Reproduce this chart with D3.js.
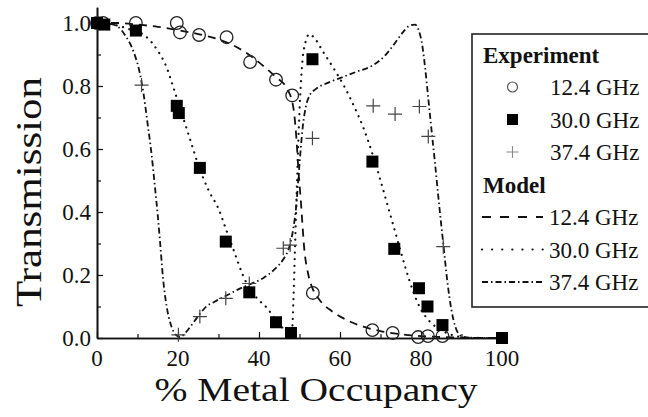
<!DOCTYPE html>
<html>
<head>
<meta charset="utf-8">
<script src="https://cdn.jsdelivr.net/npm/d3@7"></script>
</head>
<body style="margin:0">
<svg id="chart" width="648" height="417" font-family="Liberation Serif" style="display:block;background:#fff"></svg>
<script>
// ---------- Experimental data ----------
const exp124X = [0, 1.5, 9.6, 19.7, 20.5, 25.2, 32, 37.8, 44.2, 48.2, 53.3, 68, 73, 79.3, 81.7, 85.3];
const exp124Y = [1.0, 1.0, 1.0, 1.0, 0.97, 0.962, 0.955, 0.876, 0.82, 0.77, 0.143, 0.025, 0.016, 0.003, 0.006, 0.006];

const exp300X = [0, 1.8, 9.6, 19.7, 20.2, 25.4, 31.8, 37.6, 44.2, 47.9, 53.2, 68, 73.4, 79.5, 81.6, 85.3, 100];
const exp300Y = [1.0, 0.995, 0.976, 0.737, 0.714, 0.54, 0.306, 0.145, 0.05, 0.016, 0.885, 0.56, 0.283, 0.158, 0.1, 0.041, 0.0];

const exp374X = [0, 11, 20.1, 25.4, 31.8, 37.6, 46, 47.7, 53.2, 68.2, 73.6, 79.6, 81.8, 85.5];
const exp374Y = [1.0, 0.803, 0.01, 0.068, 0.126, 0.173, 0.285, 0.295, 0.634, 0.737, 0.711, 0.735, 0.64, 0.29];

// ---------- Model curves ----------
const mod124X = [0, 5, 10, 15, 20, 25, 30, 35, 40, 44, 47, 48.5, 49.2, 49.7, 50.3, 51.2, 52.2, 53.3, 55, 58, 62, 66, 70, 75, 80, 85, 90, 100];
const mod124Y = [1.0, 1.0, 0.995, 0.988, 0.977, 0.965, 0.948, 0.92, 0.875, 0.83, 0.79, 0.73, 0.64, 0.54, 0.44, 0.28, 0.2, 0.155, 0.12, 0.085, 0.055, 0.035, 0.022, 0.012, 0.006, 0.003, 0.001, 0.0];

const mod300X = [0, 4, 8, 12, 15, 17, 19, 21, 23, 25, 27.5, 30, 32, 34, 36, 38, 40, 42, 44, 46, 47.5, 48.2, 48.5, 48.9, 49.4, 50, 50.6, 51.5, 52.5, 53.5, 56, 58, 61, 63.5, 66, 68, 70, 72, 74, 76, 78, 80, 82, 84, 86, 88, 90, 95, 100];
const mod300Y = [1.0, 0.995, 0.98, 0.958, 0.912, 0.865, 0.79, 0.71, 0.63, 0.55, 0.47, 0.41, 0.34, 0.27, 0.2, 0.15, 0.12, 0.095, 0.06, 0.03, 0.012, 0.03, 0.12, 0.29, 0.5, 0.72, 0.86, 0.94, 0.965, 0.955, 0.905, 0.865, 0.8, 0.735, 0.66, 0.585, 0.5, 0.41, 0.32, 0.23, 0.15, 0.09, 0.055, 0.032, 0.018, 0.008, 0.003, 0.0, 0.0];

const mod374X = [0, 3, 5, 7, 9, 10.5, 11.5, 12.5, 13.5, 14.3, 15, 15.6, 16.3, 17.2, 18.3, 19.5, 20.5, 21.5, 23, 25, 27, 29, 32, 35, 38, 41, 44, 46, 47.5, 48.5, 49.2, 49.8, 50.3, 50.8, 51.5, 52.5, 54, 57, 61, 64, 68, 71, 73.5, 75.5, 77, 78.5, 79.5, 80.3, 81, 81.8, 82.6, 83.5, 84.5, 85.5, 86.5, 87.5, 88.5, 89.5, 91, 95, 100];
const mod374Y = [1.0, 0.998, 0.99, 0.96, 0.91, 0.845, 0.775, 0.68, 0.58, 0.48, 0.39, 0.3, 0.19, 0.1, 0.04, 0.01, 0.003, 0.012, 0.035, 0.07, 0.1, 0.115, 0.135, 0.155, 0.172, 0.19, 0.22, 0.25, 0.29, 0.35, 0.42, 0.52, 0.6, 0.67, 0.73, 0.77, 0.79, 0.81, 0.83, 0.845, 0.865, 0.895, 0.935, 0.97, 0.99, 0.995, 0.975, 0.93, 0.86, 0.76, 0.66, 0.55, 0.42, 0.3, 0.18, 0.09, 0.035, 0.01, 0.002, 0.0, 0.0];

// ---------- Ticks / labels ----------
const xMajorTicks = [0, 20, 40, 60, 80, 100];
const xMinorTicks = [10, 30, 50, 70, 90];
const yMajorTicks = [0, 0.2, 0.4, 0.6, 0.8, 1.0];
const yMinorTicks = [0.1, 0.3, 0.5, 0.7, 0.9];
const xTitle = "% Metal Occupancy";
const yTitle = "Transmission";
const legendExpTitle = "Experiment";
const legendModelTitle = "Model";
const seriesNames = ["12.4 GHz", "30.0 GHz", "37.4 GHz"];

// ---------- Drawing ----------
const FONT = "Liberation Serif";
const svg = d3.select("#chart");
const x = d3.scaleLinear().domain([0, 100]).range([97, 502]);
const y = d3.scaleLinear().domain([0, 1]).range([338, 23]);
const yAxisScale = y.copy().domain([0, 1.05]).range([338, y(1.05)]);

const zip = (xs, ys) => xs.map((v, i) => [v, ys[i]]);

function addText(parent, props, str) {
  const t = parent.append("text").text(str);
  Object.entries(props).forEach(([k, v]) => t.attr(k, v));
  t.attr("font-family", FONT).style("font-family", '"Liberation Serif"');
  return t;
}

// Axes (ticks drawn by d3 axes, labels added as plain texts using the same scales)
const gx = svg.append("g").attr("transform", `translate(0,${y(0)})`);
gx.call(d3.axisBottom(x).tickValues(xMinorTicks).tickSize(-4).tickSizeOuter(0).tickFormat(""));
const gx2 = svg.append("g").attr("transform", `translate(0,${y(0)})`);
gx2.call(d3.axisBottom(x).tickValues(xMajorTicks).tickSize(-6).tickSizeOuter(0).tickFormat(""));

const gy = svg.append("g").attr("transform", `translate(${x(0)},0)`);
gy.call(d3.axisLeft(yAxisScale).tickValues(yMinorTicks).tickSize(-4).tickSizeOuter(0).tickFormat(""));
const gy2 = svg.append("g").attr("transform", `translate(${x(0)},0)`);
gy2.call(d3.axisLeft(yAxisScale).tickValues(yMajorTicks).tickSize(-6).tickSizeOuter(0).tickFormat(""));

svg.selectAll("g").attr("font-family", null);
svg.selectAll(".tick text").remove();
svg.selectAll(".domain").attr("stroke", "#111").attr("stroke-width", 1.6);
svg.selectAll(".tick line").attr("stroke", "#111").attr("stroke-width", 1.2);

const fx = d3.format("d"), fy = d3.format(".1f");
xMajorTicks.forEach(v => addText(svg, { x: x(v), y: 366, "text-anchor": "middle", "font-size": 23, fill: "#111" }, fx(v)));
yMajorTicks.forEach(v => addText(svg, { x: 91, y: y(v) + 7.5, "text-anchor": "end", "font-size": 23, fill: "#111" }, fy(v)));

// Axis titles
addText(svg, { x: 316, y: 401, "text-anchor": "middle", "font-size": 34, fill: "#111",
  textLength: 323, lengthAdjust: "spacingAndGlyphs" }, xTitle);
addText(svg, { transform: "translate(41,192) rotate(-90)", "text-anchor": "middle", "font-size": 35, fill: "#111",
  textLength: 230, lengthAdjust: "spacingAndGlyphs" }, yTitle);

// Model lines
const line = d3.line().x(d => x(d[0])).y(d => y(d[1])).curve(d3.curveMonotoneX);
const modelStyles = [
  { data: zip(mod124X, mod124Y), dash: "8,6", width: 1.8, cap: "butt" },
  { data: zip(mod300X, mod300Y), dash: "0.1,6.5", width: 2.2, cap: "round" },
  { data: zip(mod374X, mod374Y), dash: "6,3,1.5,3", width: 1.8, cap: "butt" }
];
modelStyles.forEach(s => {
  svg.append("path").datum(s.data).attr("d", line)
    .attr("fill", "none").attr("stroke", "#111")
    .attr("stroke-width", s.width).attr("stroke-dasharray", s.dash)
    .attr("stroke-linecap", s.cap);
});

// Experimental markers
const e124 = zip(exp124X, exp124Y);
const e300 = zip(exp300X, exp300Y);
const e374 = zip(exp374X, exp374Y);

svg.append("g").selectAll("circle").data(e124).join("circle")
  .attr("cx", d => x(d[0])).attr("cy", d => y(d[1])).attr("r", 6.3)
  .attr("fill", "none").attr("stroke", "#222").attr("stroke-width", 1.3);

svg.append("g").selectAll("path").data(e374).join("path")
  .attr("transform", d => `translate(${x(d[0])},${y(d[1])})`)
  .attr("d", "M-7,0H7M0,-7V7")
  .attr("stroke", "#444").attr("stroke-width", 1.2).attr("fill", "none");

svg.append("g").selectAll("rect").data(e300).join("rect")
  .attr("x", d => x(d[0]) - 6).attr("y", d => y(d[1]) - 6)
  .attr("width", 12).attr("height", 12).attr("fill", "#000");

// Legend
const lg = svg.append("g");
lg.append("rect").attr("x", 472).attr("y", 34).attr("width", 200).attr("height", 273)
  .attr("fill", "#fff").attr("stroke", "#222").attr("stroke-width", 1.6);

addText(lg, { x: 483, y: 62.5, "font-size": 23, "font-weight": "bold", fill: "#111" }, legendExpTitle);
addText(lg, { x: 483, y: 192.5, "font-size": 23, "font-weight": "bold", fill: "#111" }, legendModelTitle);

const expRows = [95, 127.5, 160];
const modRows = [225, 257.5, 290];
seriesNames.forEach((name, i) => {
  addText(lg, { x: 550, y: expRows[i], "font-size": 23, fill: "#111" }, name);
  addText(lg, { x: 549, y: modRows[i], "font-size": 23, fill: "#111" }, name);
});
// Legend markers
lg.append("circle").attr("cx", 512.5).attr("cy", expRows[0] - 8).attr("r", 5)
  .attr("fill", "none").attr("stroke", "#555").attr("stroke-width", 1.2);
lg.append("rect").attr("x", 507).attr("y", expRows[1] - 13.5).attr("width", 11).attr("height", 11).attr("fill", "#000");
lg.append("path").attr("transform", `translate(512.5,${expRows[2] - 8})`).attr("d", "M-6,0H6M0,-6V6")
  .attr("stroke", "#888").attr("stroke-width", 1.1);
// Legend lines
modelStyles.forEach((s, i) => {
  lg.append("line").attr("x1", 482).attr("x2", 543).attr("y1", modRows[i] - 8).attr("y2", modRows[i] - 8)
    .attr("stroke", "#111").attr("stroke-width", s.width)
    .attr("stroke-dasharray", i === 0 ? "9,9" : (i === 1 ? "0.1,10" : "6,3,1.5,3"))
    .attr("stroke-linecap", s.cap);
});
</script>
</body>
</html>
